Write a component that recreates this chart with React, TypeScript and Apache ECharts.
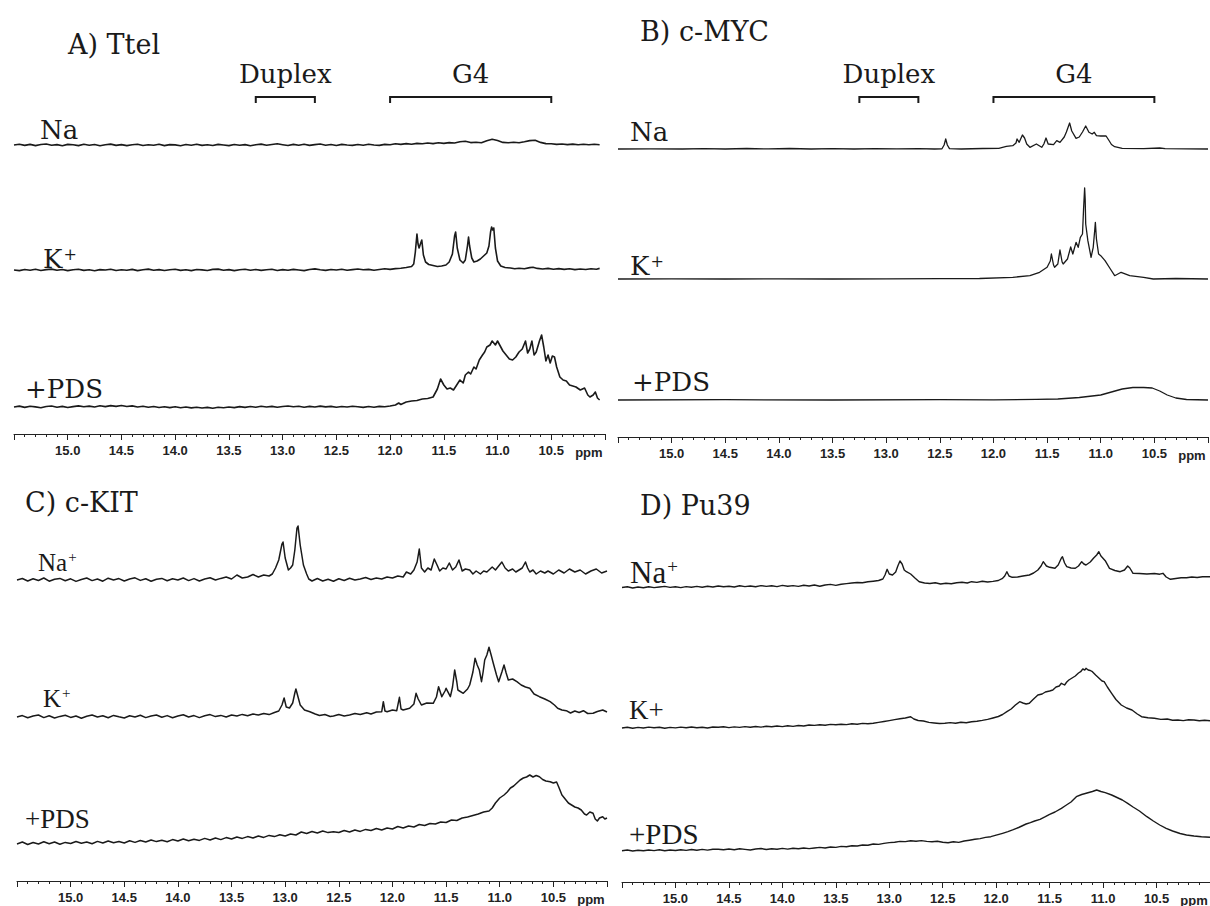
import React, { useEffect, useRef } from 'react';
import * as echarts from 'echarts';

// ---------- axis & annotation values ----------
const PPM_MIN = 10.0;
const PPM_MAX = 15.5;
const PPM_INTERVAL = 0.5;
const DUPLEX_RANGE = [13.25, 12.7];
const G4_RANGE = [12.0, 10.5];
const PPM_LABEL_AT = 10.15;

// ---------- A) Ttel ----------
const A_NA = [[15.5,0],[15.45,0.8],[15.4,-0.4],[15.35,0.6],[15.3,-0.6],[15.25,0.5],[15.2,1],[15.15,-0.3],[15.1,0.4],[15.05,-0.7],[15.0,0.6],[14.95,0.2],[14.9,-0.6],[14.85,0.7],[14.8,-0.2],[14.75,0.5],[14.7,-0.8],[14.65,0.3],[14.6,0.9],[14.55,-0.4],[14.5,0.4],[14.45,-0.6],[14.4,0.2],[14.35,0.8],[14.3,-0.5],[14.25,0.3],[14.2,-0.2],[14.15,0.7],[14.1,-0.6],[14.05,0.4],[14.0,0.1],[13.95,-0.7],[13.9,0.5],[13.85,-0.2],[13.8,0.8],[13.75,-0.4],[13.7,0.3],[13.65,-0.5],[13.6,0.6],[13.55,0],[13.5,-0.6],[13.45,0.5],[13.4,-0.3],[13.35,0.4],[13.3,-0.8],[13.25,0.3],[13.2,0.9],[13.15,-0.2],[13.1,0.5],[13.05,1.2],[13.0,0.3],[12.95,-0.5],[12.9,0.6],[12.85,-0.3],[12.8,0.7],[12.75,-0.4],[12.7,0.4],[12.65,1],[12.6,-0.2],[12.55,0.5],[12.5,-0.5],[12.45,0.6],[12.4,0],[12.35,-0.4],[12.3,0.5],[12.25,-0.3],[12.2,0.7],[12.15,0],[12.1,-0.4],[12.05,0.6],[12.0,0.3],[11.95,1.2],[11.9,0.6],[11.85,1.4],[11.8,0.8],[11.75,1.6],[11.7,1.2],[11.65,2],[11.6,1.4],[11.55,2.2],[11.5,1.6],[11.45,2.4],[11.4,2],[11.35,3.2],[11.3,3.8],[11.25,2.4],[11.2,2.8],[11.15,2.2],[11.1,4.2],[11.05,5.8],[11.0,4.4],[10.95,2.6],[10.9,2.2],[10.85,2.8],[10.8,2.2],[10.75,3.2],[10.7,4.4],[10.65,4.8],[10.6,2.6],[10.55,1.4],[10.5,1.2],[10.45,0.6],[10.4,1],[10.35,0.4],[10.3,0.9],[10.25,0.2],[10.2,0.8],[10.15,0.3],[10.1,0.7],[10.05,0.2]];
const A_K = [[15.5,0],[15.45,-0.6],[15.4,0.5],[15.35,-0.3],[15.3,0.7],[15.25,-0.5],[15.2,0.4],[15.15,0.9],[15.1,-0.2],[15.05,0.5],[15,-0.6],[14.95,0.3],[14.9,0.8],[14.85,-0.4],[14.8,0.2],[14.75,-0.7],[14.7,0.4],[14.65,0],[14.6,0.8],[14.55,-0.5],[14.5,0.3],[14.45,-0.2],[14.4,0.6],[14.35,-0.6],[14.3,0.2],[14.25,0.9],[14.2,-0.3],[14.15,0.4],[14.1,-0.5],[14.05,0.3],[14,0.7],[13.95,-0.4],[13.9,0.2],[13.85,-0.6],[13.8,0.5],[13.75,0.1],[13.7,-0.5],[13.65,0.6],[13.6,0.9],[13.55,-0.2],[13.5,0.4],[13.45,-0.6],[13.4,0.3],[13.35,0.8],[13.3,-0.3],[13.25,0.5],[13.2,-0.4],[13.15,0.2],[13.1,0.7],[13.05,-0.5],[13,0.4],[12.95,-0.2],[12.9,0.6],[12.85,0],[12.8,-0.6],[12.75,0.5],[12.7,1.1],[12.65,0.2],[12.6,-0.4],[12.55,0.5],[12.5,0],[12.45,0.7],[12.4,-0.3],[12.35,0.4],[12.3,1],[12.25,0.2],[12.2,0.6],[12.15,-0.2],[12.1,0.5],[12.05,1.2],[12,0.6],[11.95,1.4],[11.9,1.8],[11.85,2.5],[11.8,3.5],[11.78,6],[11.765,18],[11.75,36],[11.74,26],[11.73,22],[11.715,27],[11.705,30],[11.69,15],[11.67,8],[11.64,5.5],[11.6,4.5],[11.56,3.5],[11.52,4],[11.48,5],[11.45,8],[11.42,16],[11.4,34],[11.39,38],[11.375,22],[11.35,10],[11.32,7],[11.3,10],[11.28,24],[11.27,33],[11.26,24],[11.24,12],[11.22,8],[11.19,9],[11.16,11],[11.13,14],[11.1,17],[11.08,24],[11.065,38],[11.055,43],[11.045,40],[11.035,42],[11.02,22],[11.0,9],[10.97,4],[10.93,2.5],[10.88,2],[10.84,1.2],[10.8,1.8],[10.75,1.2],[10.7,2.4],[10.67,2.8],[10.63,1.6],[10.58,1],[10.53,1.6],[10.48,0.8],[10.43,1.4],[10.38,0.6],[10.33,1.2],[10.28,0.4],[10.23,1],[10.18,0.5],[10.13,1.2],[10.08,0.8],[10.05,1.6]];
const A_PDS = [[15.5,0],[15.45,0.9],[15.4,-0.4],[15.35,0.7],[15.3,0.1],[15.25,-0.7],[15.2,0.5],[15.15,1],[15.1,-0.2],[15.05,0.6],[15,-0.5],[14.95,0.4],[14.9,1.1],[14.85,0.2],[14.8,0.9],[14.75,0],[14.7,1.2],[14.65,0.4],[14.6,1.4],[14.55,0.6],[14.5,1.5],[14.45,0.5],[14.4,1.1],[14.35,0],[14.3,0.8],[14.25,-0.3],[14.2,0.5],[14.15,-0.5],[14.1,0.3],[14.05,-0.6],[14,0.2],[13.95,-0.8],[13.9,0],[13.85,-0.9],[13.8,-0.2],[13.75,-1],[13.7,-0.4],[13.65,-1.2],[13.6,-0.3],[13.55,-0.8],[13.5,0],[13.45,-0.6],[13.4,0.4],[13.35,-0.4],[13.3,0.5],[13.25,-0.2],[13.2,0.7],[13.15,0],[13.1,0.6],[13.05,-0.3],[13,0.5],[12.95,1],[12.9,0.2],[12.85,0.8],[12.8,-0.2],[12.75,0.6],[12.7,0],[12.65,0.9],[12.6,0.1],[12.55,0.6],[12.5,-0.3],[12.45,0.5],[12.4,0],[12.35,0.8],[12.3,0.2],[12.25,-0.4],[12.2,0.5],[12.15,-0.2],[12.1,0.6],[12.05,0.3],[12.0,1],[11.95,2],[11.92,4],[11.9,2.5],[11.85,5],[11.8,6],[11.75,6.5],[11.7,8],[11.65,8.5],[11.6,10],[11.56,18],[11.53,28],[11.5,22],[11.47,18],[11.44,19],[11.41,17],[11.38,22],[11.35,27],[11.32,24],[11.3,32],[11.27,35],[11.25,33],[11.22,40],[11.2,38],[11.17,47],[11.14,52],[11.12,55],[11.1,60],[11.07,62],[11.05,66],[11.02,62],[11.0,66],[10.98,62],[10.95,56],[10.92,52],[10.89,48],[10.86,47],[10.83,50],[10.8,55],[10.77,58],[10.74,66],[10.72,54],[10.7,58],[10.68,66],[10.66,52],[10.64,55],[10.61,66],[10.59,72],[10.57,60],[10.55,46],[10.53,52],[10.51,44],[10.49,51],[10.47,50],[10.45,40],[10.42,30],[10.39,27],[10.36,26],[10.33,22],[10.3,21],[10.27,20],[10.23,17],[10.19,19],[10.16,12],[10.14,10],[10.11,12],[10.09,15],[10.07,9],[10.05,7]];

// ---------- B) c-MYC ----------
const B_NA = [[15.5,0],[15.2,0.2],[14.9,0],[14.7,0.4],[14.5,0],[14.3,0.5],[14.1,0.1],[13.9,0.5],[13.7,0],[13.5,0.4],[13.3,0],[13.1,0.4],[12.9,0.1],[12.7,0.3],[12.55,0],[12.48,0.2],[12.46,4],[12.445,10],[12.43,4],[12.41,0.3],[12.3,0],[12.1,0.5],[11.95,0.6],[11.88,2.7],[11.82,3.3],[11.79,6],[11.78,10],[11.76,6.7],[11.73,14],[11.71,11],[11.69,5],[11.66,1.7],[11.6,5],[11.55,1.7],[11.53,5],[11.51,11],[11.49,5],[11.44,4.3],[11.41,8.3],[11.38,6.7],[11.34,12],[11.32,17],[11.29,26],[11.27,18],[11.23,10.7],[11.2,12],[11.17,17],[11.14,23],[11.11,16.7],[11.08,15],[11.06,16.7],[11.04,13.3],[11.0,13],[10.95,13],[10.92,8],[10.9,4.5],[10.87,2.3],[10.8,0.7],[10.6,0.4],[10.45,1],[10.4,0.3],[10.2,0.2],[10.0,0]];
const B_K = [[15.5,0],[15.0,0.2],[14.5,0],[14.0,0.2],[13.5,0],[13,0.2],[12.5,0.3],[12.13,0.5],[11.82,1.7],[11.66,3.3],[11.57,6.7],[11.5,11.7],[11.47,18],[11.46,25],[11.44,14],[11.43,11.7],[11.4,15],[11.38,29],[11.36,17],[11.35,15],[11.31,20],[11.28,32],[11.26,25],[11.23,36.7],[11.21,31.7],[11.19,41.7],[11.17,45],[11.16,70],[11.15,91],[11.145,80],[11.14,55],[11.12,38.3],[11.09,21.7],[11.07,31.7],[11.055,50],[11.05,56.7],[11.04,40],[11.02,25],[11.0,23.3],[10.96,18.3],[10.91,10],[10.87,3.3],[10.81,6.7],[10.73,3.3],[10.6,1.7],[10.51,0],[10.3,0.5],[10.0,0]];
const B_PDS = [[15.5,0],[14.5,0.3],[13.5,0],[12.5,0.3],[12,0.2],[11.6,0.6],[11.4,1],[11.2,2.5],[11.0,5],[10.9,8],[10.8,11],[10.7,12.5],[10.6,12.5],[10.52,12],[10.45,9],[10.38,5],[10.3,2],[10.2,0.5],[10.0,0]];

// ---------- C) c-KIT ----------
const C_NA = [[15.5,0],[15.45,1.5],[15.4,-1],[15.35,1.2],[15.3,-0.5],[15.25,2],[15.2,-1.2],[15.15,0.8],[15.1,1.6],[15.05,-0.8],[15,1.2],[14.95,-1.4],[14.9,0.5],[14.85,2],[14.8,-0.6],[14.75,1],[14.7,-1.2],[14.65,1.8],[14.6,0],[14.55,1.4],[14.5,-1],[14.45,1],[14.4,2.2],[14.35,-0.4],[14.3,1.2],[14.25,-1.2],[14.2,0.8],[14.15,1.6],[14.1,-0.8],[14.05,1.2],[14,0],[13.95,2],[13.9,-0.6],[13.85,1.4],[13.8,-1],[13.75,1],[13.7,2.2],[13.65,0],[13.6,1.6],[13.55,3],[13.5,1],[13.45,5],[13.4,2],[13.35,3],[13.3,5.5],[13.25,3],[13.2,5],[13.15,4],[13.12,6],[13.09,12],[13.06,20],[13.03,36],[13.02,38],[13.0,22],[12.97,10],[12.95,12],[12.93,15],[12.91,30],[12.89,52],[12.88,54],[12.86,35],[12.83,15],[12.8,6],[12.78,1],[12.75,-1],[12.7,1.5],[12.65,-1],[12.6,0.8],[12.55,-1.2],[12.5,1.2],[12.45,-0.5],[12.4,1.8],[12.35,0],[12.3,1],[12.25,2.5],[12.2,0.5],[12.15,2],[12.1,1],[12.05,3],[12.0,2],[11.95,4],[11.9,3],[11.87,8],[11.83,6],[11.8,10],[11.77,18],[11.75,31],[11.73,12],[11.7,8],[11.67,12],[11.64,10],[11.61,21],[11.58,14],[11.56,9],[11.53,12],[11.5,11],[11.47,17],[11.44,10],[11.41,13],[11.38,20],[11.35,9],[11.32,11],[11.28,10],[11.25,6],[11.22,9],[11.18,6],[11.15,9],[11.12,8],[11.09,11],[11.07,13],[11.04,10],[11.01,14],[10.98,18],[10.95,12],[10.92,9],[10.88,11],[10.85,8],[10.82,10],[10.79,12],[10.76,18],[10.74,12],[10.72,8],[10.69,10],[10.66,6],[10.62,9],[10.58,7],[10.55,9],[10.5,6],[10.45,10],[10.4,7],[10.35,11],[10.3,8],[10.25,10],[10.2,6],[10.15,9],[10.1,11],[10.05,7],[10.0,9]];
const C_K = [[15.5,0],[15.45,1.4],[15.4,-0.8],[15.35,1],[15.3,2],[15.25,-0.6],[15.2,1.2],[15.15,-1],[15.1,0.6],[15.05,1.8],[15,-0.4],[14.95,1],[14.9,-1.2],[14.85,0.8],[14.8,2],[14.75,0],[14.7,1.2],[14.65,-0.8],[14.6,1.6],[14.55,0.2],[14.5,-1],[14.45,1.2],[14.4,0],[14.35,1.8],[14.3,-0.6],[14.25,1],[14.2,2],[14.15,-0.2],[14.1,1.4],[14.05,-0.8],[14,1],[13.95,2.2],[13.9,0],[13.85,1.4],[13.8,-0.6],[13.75,1.2],[13.7,2.4],[13.65,0.4],[13.6,1.6],[13.55,0],[13.5,2],[13.45,1],[13.4,2.6],[13.35,1.2],[13.3,3],[13.25,2],[13.2,3.5],[13.15,2.4],[13.1,4.5],[13.06,6],[13.03,12],[13.01,19],[12.99,10],[12.96,9],[12.93,14],[12.91,24],[12.9,28],[12.88,20],[12.86,12],[12.82,7],[12.77,5.3],[12.72,3],[12.68,1.5],[12.63,2.5],[12.58,0.5],[12.55,1],[12.5,2.5],[12.45,1],[12.4,2],[12.35,3.5],[12.3,2.5],[12.24,4.3],[12.2,3],[12.15,5],[12.1,5.3],[12.085,15.3],[12.07,6],[12.05,5.3],[12.0,7],[11.96,6.3],[11.935,19.7],[11.92,8],[11.9,7],[11.84,8.7],[11.8,13],[11.78,23.7],[11.76,18],[11.73,12],[11.68,14],[11.62,13.7],[11.59,20],[11.57,30.3],[11.54,20.3],[11.51,26],[11.5,28.7],[11.46,20.3],[11.44,30],[11.42,47],[11.4,35],[11.39,27],[11.34,23.7],[11.3,28],[11.28,32],[11.25,45],[11.23,58.7],[11.21,52],[11.19,47],[11.17,35.3],[11.155,45],[11.14,57],[11.12,62],[11.1,69.7],[11.08,62],[11.06,53.7],[11.03,42],[11.01,35.3],[10.98,45],[10.96,52],[10.94,44],[10.92,37],[10.88,38],[10.84,35.3],[10.8,32],[10.76,30],[10.72,28.7],[10.68,23],[10.63,20.3],[10.58,18],[10.53,15.3],[10.49,12],[10.46,8.7],[10.42,7],[10.38,6.3],[10.34,4],[10.3,6],[10.26,4.5],[10.22,6.3],[10.18,3.5],[10.13,3.7],[10.09,5.5],[10.04,7],[10.0,5]];
const C_PDS = [[15.5,1],[15.45,3],[15.4,0.5],[15.35,2.5],[15.3,1],[15.25,3.2],[15.2,1.2],[15.15,3],[15.1,0.8],[15.05,2.6],[15,1.5],[14.95,3.5],[14.9,1.8],[14.85,3],[14.8,1.2],[14.75,3.6],[14.7,2],[14.65,4],[14.6,2.2],[14.55,3.5],[14.5,2],[14.45,4.2],[14.4,2.6],[14.35,4.5],[14.3,3],[14.25,5],[14.2,3.4],[14.15,4.8],[14.1,3.2],[14.05,5.4],[14,4],[13.95,6],[13.9,4.2],[13.85,5.8],[13.8,4.6],[13.75,6.6],[13.7,5],[13.65,7],[13.6,5.4],[13.55,7.4],[13.5,6],[13.45,8],[13.4,6.6],[13.35,8.4],[13.3,7],[13.25,9],[13.2,7.6],[13.15,9.6],[13.1,8.4],[13.05,10.2],[13,9],[12.95,11],[12.9,10],[12.85,13],[12.8,11.5],[12.75,13.5],[12.7,12],[12.65,14],[12.6,12.4],[12.55,13.3],[12.5,12.5],[12.45,14.5],[12.4,13],[12.35,15],[12.3,13.6],[12.25,15.6],[12.2,14.5],[12.15,16.5],[12.1,15],[12.05,17],[12,16],[11.95,18.5],[11.9,17],[11.85,19],[11.8,18],[11.75,20.5],[11.7,19.5],[11.65,21.5],[11.6,21],[11.55,23],[11.5,22.5],[11.45,25],[11.4,24.5],[11.35,27],[11.3,28],[11.25,29.5],[11.2,31],[11.15,33],[11.1,34],[11.07,37],[11.04,42],[11.0,47],[10.96,50],[10.93,53],[10.9,57],[10.87,59],[10.84,62],[10.81,65],[10.78,67],[10.75,68],[10.72,70],[10.69,68],[10.66,69.5],[10.63,68.3],[10.6,65.5],[10.57,64],[10.53,63.3],[10.5,62],[10.47,63],[10.45,58],[10.42,50],[10.39,46],[10.36,42],[10.33,40],[10.3,38],[10.27,37],[10.24,35],[10.21,31],[10.19,30],[10.16,33],[10.13,31.7],[10.11,26],[10.09,24],[10.07,27],[10.04,28.3],[10.02,26],[10,27]];

// ---------- D) Pu39 ----------
const D_NA = [[15.5,0.5],[15.45,1.2],[15.4,0],[15.35,1],[15.3,0.3],[15.25,1.3],[15.2,0.4],[15.15,1],[15.1,1.6],[15.05,0.6],[15,1.2],[14.95,0.4],[14.9,1.4],[14.85,0.8],[14.8,1.6],[14.75,0.8],[14.7,1.8],[14.65,1],[14.6,2],[14.55,1.2],[14.5,1.8],[14.45,1],[14.4,2.2],[14.35,1.4],[14.3,2],[14.25,1.2],[14.2,2.4],[14.15,1.6],[14.1,2.2],[14.05,1.4],[14,2.6],[13.95,1.8],[13.9,2.4],[13.85,1.6],[13.8,2.8],[13.75,2],[13.7,3],[13.65,1.8],[13.6,3],[13.55,3.6],[13.5,2.6],[13.45,3.8],[13.4,4.4],[13.35,5],[13.3,5.5],[13.25,5.2],[13.2,6.2],[13.15,6.8],[13.1,7.5],[13.06,9],[13.04,13],[13.02,18.7],[13.0,14],[12.97,13],[12.94,16],[12.92,22],[12.9,27],[12.88,24],[12.86,18],[12.84,16.3],[12.8,14],[12.76,10],[12.72,6.3],[12.67,5],[12.62,4.5],[12.57,5.2],[12.52,4],[12.47,4.7],[12.42,4.2],[12.37,5.3],[12.32,5.8],[12.27,5],[12.23,6.3],[12.18,5.6],[12.13,6.8],[12.08,6],[12.03,6.6],[11.98,7.5],[11.94,9.7],[11.92,12],[11.9,16.3],[11.88,12],[11.85,10.7],[11.8,11],[11.75,12],[11.69,13],[11.65,15],[11.61,18],[11.58,22],[11.56,26.3],[11.53,22],[11.5,20.7],[11.45,19.7],[11.42,23],[11.39,30],[11.38,31.3],[11.36,25],[11.34,21.3],[11.3,20],[11.26,19.7],[11.23,22],[11.2,26.3],[11.18,24],[11.16,23],[11.12,26],[11.09,29.7],[11.06,33],[11.04,36.3],[11.02,32],[10.98,27.3],[10.94,19.7],[10.89,17.5],[10.84,16.3],[10.8,18],[10.77,22],[10.75,20],[10.72,14.7],[10.66,14.5],[10.59,14],[10.52,14.5],[10.47,13.8],[10.44,14.7],[10.41,11],[10.37,8.7],[10.32,9.5],[10.27,10.2],[10.22,10.3],[10.17,11],[10.12,10.5],[10.07,11.2],[10.0,11.3]];
const D_K = [[15.5,0],[15.45,0.8],[15.4,-0.2],[15.35,0.6],[15.3,0],[15.25,0.9],[15.2,0.2],[15.15,0.7],[15.1,-0.3],[15.05,0.6],[15,0.1],[14.95,0.9],[14.9,0.3],[14.85,1],[14.8,0.2],[14.75,0.8],[14.7,0],[14.65,1],[14.6,0.7],[14.55,1.2],[14.5,0.4],[14.45,1.1],[14.4,0.6],[14.35,1.4],[14.3,0.8],[14.25,1.5],[14.2,0.9],[14.15,1.7],[14.1,1.2],[14.05,2],[14,1.4],[13.95,2.2],[13.9,1.6],[13.85,2.5],[13.8,2],[13.75,3],[13.7,2.6],[13.65,3.2],[13.6,2.8],[13.55,3.6],[13.5,3.2],[13.45,3.8],[13.4,3.4],[13.35,4.2],[13.3,3.8],[13.25,4.6],[13.2,4.2],[13.15,4.7],[13.1,5.6],[13.05,6.5],[13,7.4],[12.95,8.4],[12.9,9.2],[12.85,10],[12.8,11.3],[12.77,9],[12.73,7.5],[12.68,7],[12.63,5.6],[12.58,5],[12.53,4.5],[12.48,4.7],[12.43,5.4],[12.38,4.8],[12.33,5.8],[12.28,5.2],[12.23,6.3],[12.18,6.8],[12.13,7.6],[12.08,8.6],[12.03,10],[11.98,11.5],[11.94,13.5],[11.9,16.3],[11.86,19],[11.82,23],[11.78,26.3],[11.75,25],[11.72,24],[11.69,24.7],[11.66,28],[11.63,31],[11.61,33],[11.57,34],[11.54,36],[11.5,37],[11.47,38],[11.44,41],[11.41,42],[11.39,44.7],[11.36,43],[11.34,46],[11.32,48],[11.29,50],[11.26,52],[11.23,55],[11.21,56.3],[11.19,59],[11.17,58],[11.16,59.7],[11.14,58],[11.12,57.5],[11.1,56.3],[11.07,53],[11.04,50],[11.01,47],[10.99,46.3],[10.96,41],[10.92,34.7],[10.88,28.5],[10.83,23],[10.78,20],[10.73,18],[10.68,14],[10.64,11.3],[10.58,10.2],[10.52,9.7],[10.46,8.6],[10.4,9],[10.35,7.8],[10.3,8],[10.25,7.4],[10.2,8.2],[10.15,8],[10.1,7.2],[10.05,7.8],[10,7.3]];
const D_PDS = [[15.5,0.3],[15.45,1],[15.4,0],[15.35,0.8],[15.3,0.2],[15.25,1],[15.2,0.4],[15.15,1.2],[15.1,0.3],[15.05,1],[15,0.5],[14.95,1.3],[14.9,0.6],[14.85,1.5],[14.8,0.8],[14.75,1.6],[14.7,0.9],[14.65,1.8],[14.6,1.7],[14.55,1.2],[14.5,2],[14.45,1.3],[14.4,2.2],[14.35,1.6],[14.3,1],[14.25,2],[14.2,2.5],[14.15,1.5],[14.1,2.2],[14.05,1.7],[14,2.6],[13.95,1.9],[13.9,2.8],[13.85,2.2],[13.8,3],[13.75,2.4],[13.7,3],[13.65,3.6],[13.6,3],[13.55,4],[13.5,3.6],[13.45,4.6],[13.4,4.2],[13.35,5.2],[13.3,5],[13.25,6],[13.2,5.8],[13.15,7],[13.1,6.6],[13.05,7.6],[13,8.4],[12.95,8.8],[12.9,9.6],[12.85,9.4],[12.8,10.3],[12.75,9.8],[12.7,10.4],[12.65,9.6],[12.6,9.2],[12.55,9.8],[12.5,8.7],[12.45,8.3],[12.4,9.2],[12.35,8.6],[12.3,10],[12.25,10.8],[12.2,11.7],[12.15,12.4],[12.1,13.6],[12.05,14.3],[12,15.8],[11.94,17.7],[11.89,19.4],[11.84,21.3],[11.79,23.5],[11.76,25],[11.72,27],[11.68,28.4],[11.64,30],[11.59,31.6],[11.54,34.3],[11.5,36.6],[11.45,39],[11.39,42.7],[11.35,45.5],[11.3,49],[11.25,54.3],[11.2,56.5],[11.15,58],[11.1,59.5],[11.06,61],[11.02,59.5],[10.98,58.4],[10.92,56],[10.87,53.5],[10.82,51],[10.77,47.7],[10.72,44],[10.66,40],[10.59,34.3],[10.53,30],[10.47,26],[10.41,22.7],[10.35,20],[10.28,17.5],[10.22,16],[10.15,15],[10.08,14.2],[10,13.7]];

// ---------- layout (positions and styles, not data) ----------
const GEORGIA = '"DejaVu Serif", Georgia, serif';
const TIMES = '"Liberation Serif", "Times New Roman", serif';
const SANS = '"Liberation Sans", Arial, Helvetica, sans-serif';
const INK = '#1a1a1a';

type Lbl = { text: string; sup?: string; x: number; y: number; size: number; font: string };
type Panel = {
  title: string; titleX: number; titleY: number;
  left: number; width: number; axisY: number; brackets: boolean; lineWidth: number;
  traces: { data: number[][]; base: number; label: Lbl }[];
};

const PANELS: Panel[] = [
  {
    title: 'A) Ttel', titleX: 68, titleY: 44, left: 14, width: 591, axisY: 434, brackets: true, lineWidth: 1.6,
    traces: [
      { data: A_NA, base: 145, label: { text: 'Na', x: 40, y: 130, size: 26, font: GEORGIA } },
      { data: A_K, base: 270, label: { text: 'K', sup: '+', x: 43, y: 259, size: 26, font: GEORGIA } },
      { data: A_PDS, base: 407, label: { text: '+PDS', x: 25, y: 389, size: 26, font: GEORGIA } },
    ],
  },
  {
    title: 'B) c-MYC', titleX: 640, titleY: 31, left: 618, width: 590, axisY: 437, brackets: true, lineWidth: 1.3,
    traces: [
      { data: B_NA, base: 149, label: { text: 'Na', x: 630, y: 132, size: 26, font: GEORGIA } },
      { data: B_K, base: 279, label: { text: 'K', sup: '+', x: 630, y: 266, size: 26, font: GEORGIA } },
      { data: B_PDS, base: 400, label: { text: '+PDS', x: 632, y: 382, size: 26, font: GEORGIA } },
    ],
  },
  {
    title: 'C) c-KIT', titleX: 25, titleY: 502, left: 17, width: 590, axisY: 881, brackets: false, lineWidth: 1.5,
    traces: [
      { data: C_NA, base: 580, label: { text: 'Na', sup: '+', x: 38, y: 562, size: 25, font: TIMES } },
      { data: C_K, base: 717, label: { text: 'K', sup: '+', x: 43, y: 698, size: 25, font: TIMES } },
      { data: C_PDS, base: 845, label: { text: '+PDS', x: 25, y: 819, size: 27, font: TIMES } },
    ],
  },
  {
    title: 'D) Pu39', titleX: 640, titleY: 505, left: 622, width: 588, axisY: 882, brackets: false, lineWidth: 1.4,
    traces: [
      { data: D_NA, base: 588, label: { text: 'Na', sup: '+', x: 630, y: 572, size: 31, font: TIMES } },
      { data: D_K, base: 728, label: { text: 'K+', x: 629, y: 710, size: 27, font: TIMES } },
      { data: D_PDS, base: 851, label: { text: '+PDS', x: 629, y: 834, size: 29, font: TIMES } },
    ],
  },
];

function labelGraphic(l: Lbl) {
  const style: any = {
    fill: INK,
    textVerticalAlign: 'middle',
    textAlign: 'left',
  };
  if (l.sup) {
    style.text = `{n|${l.text}}{s|${l.sup}}`;
    style.rich = {
      n: { fontSize: l.size, fontFamily: l.font, fill: INK },
      s: { fontSize: Math.round(l.size * 0.6), fontFamily: l.font, fill: INK, verticalAlign: 'top', padding: [0, 0, 0, 1] },
    };
  } else {
    style.text = l.text;
    style.fontSize = l.size;
    style.fontFamily = l.font;
  }
  return { type: 'text', x: l.x, y: l.y, style, silent: true };
}

export default function App() {
  const ref = useRef<HTMLDivElement>(null);
  useEffect(() => {
    if (!ref.current) return;
    const chart = echarts.init(ref.current, null, { renderer: 'svg' });
    const grid: any[] = [];
    const xAxis: any[] = [];
    const yAxis: any[] = [];
    const series: any[] = [];
    const axisIdx: number[] = [];

    PANELS.forEach((p) => {
      p.traces.forEach((t) => {
        const i = grid.length;
        grid.push({ left: p.left, width: p.width, top: t.base - 110, height: 120 });
        xAxis.push({ type: 'value', gridIndex: i, min: PPM_MIN, max: PPM_MAX, inverse: true, show: false });
        yAxis.push({ type: 'value', gridIndex: i, min: -10, max: 110, show: false });
        series.push({
          type: 'line', xAxisIndex: i, yAxisIndex: i, data: t.data,
          symbol: 'none', showSymbol: false, silent: true,
          lineStyle: { color: INK, width: p.lineWidth, join: 'round' },
        });
      });
      const ai = grid.length;
      axisIdx.push(ai);
      grid.push({ left: p.left, width: p.width, top: p.axisY - 10, height: 10 });
      xAxis.push({
        type: 'value', gridIndex: ai, min: PPM_MIN, max: PPM_MAX, interval: PPM_INTERVAL, inverse: true,
        position: 'bottom',
        axisLine: { show: true, lineStyle: { color: '#222', width: 1 } },
        axisTick: { show: true, length: 6, lineStyle: { color: '#222', width: 1 } },
        minorTick: { show: true, splitNumber: 5, length: 3, lineStyle: { color: '#222', width: 1 } },
        splitLine: { show: false },
        minorSplitLine: { show: false },
        axisLabel: {
          show: true, margin: 10, showMinLabel: false, showMaxLabel: false,
          formatter: (v: number) => v.toFixed(1),
          fontFamily: SANS, fontWeight: 'bold', fontSize: 13, color: '#222',
        },
      });
      yAxis.push({ type: 'value', gridIndex: ai, min: 0, max: 1, show: false });
    });

    chart.setOption({ animation: false, grid, xAxis, yAxis, series });

    const graphics: any[] = [];
    PANELS.forEach((p, pi) => {
      const toX = (v: number) => chart.convertToPixel({ xAxisIndex: axisIdx[pi] } as any, v) as number;
      graphics.push({
        type: 'text', x: p.titleX, y: p.titleY, silent: true,
        style: { text: p.title, fontSize: 27, fontFamily: GEORGIA, fill: INK, textVerticalAlign: 'middle' },
      });
      p.traces.forEach((t) => graphics.push(labelGraphic(t.label)));
      graphics.push({
        type: 'text', x: toX(PPM_LABEL_AT), y: p.axisY + 18, silent: true,
        style: {
          text: 'ppm', fontSize: 13, fontWeight: 'bold', fontFamily: SANS,
          fill: '#222', textAlign: 'center', textVerticalAlign: 'middle',
        },
      });
      if (p.brackets) {
        const brs: [number[], string][] = [[DUPLEX_RANGE, 'Duplex'], [G4_RANGE, 'G4']];
        brs.forEach(([r, name]) => {
          const x1 = toX(r[0]);
          const x2 = toX(r[1]);
          graphics.push({
            type: 'polyline', silent: true,
            shape: { points: [[x1, 103], [x1, 97], [x2, 97], [x2, 103]] },
            style: { stroke: INK, lineWidth: 2, fill: 'none' },
          });
          graphics.push({
            type: 'text', x: (x1 + x2) / 2, y: 74, silent: true,
            style: { text: name, fontSize: 26, fontFamily: GEORGIA, fill: INK, textAlign: 'center', textVerticalAlign: 'middle' },
          });
        });
      }
    });
    chart.setOption({ graphic: graphics });

    return () => chart.dispose();
  }, []);
  return (
    <div
      ref={ref}
      style={{ position: 'fixed', left: 0, top: 0, width: 1210, height: 906, background: '#ffffff' }}
    />
  );
}
